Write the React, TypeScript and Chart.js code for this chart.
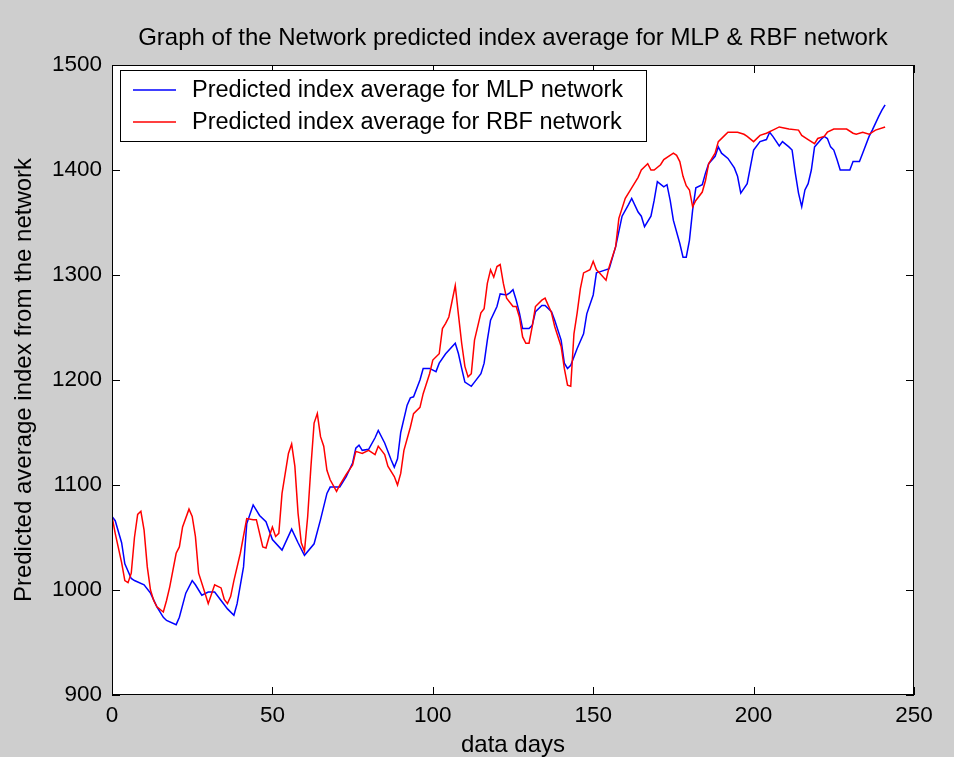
import React, { useEffect, useRef } from "react";
import { Chart, registerables } from "chart.js";

Chart.register(...registerables);

const chartTitle = "Graph of the Network predicted index average for MLP & RBF network";
const xAxisTitle = "data days";
const yAxisTitle = "Predicted average index from the network";
const mlpLabel = "Predicted index average for MLP network";
const rbfLabel = "Predicted index average for RBF network";

const xTickValues = [0, 50, 100, 150, 200, 250];
const yTickValues = [900, 1000, 1100, 1200, 1300, 1400, 1500];

const mlpDays = [
  0, 1, 3, 4, 6, 7, 10, 12, 14, 16, 17, 20, 21, 23, 25, 26, 28, 30, 32, 34, 36, 38, 39, 41, 42, 44, 46, 48, 50,
  53, 56, 58, 60, 63, 65, 67, 68, 71, 73, 75, 76, 77, 78, 80, 82, 83, 85, 87, 88, 89, 90, 92, 93, 94, 96, 97, 99,
  101, 102, 104, 107, 108, 109, 110, 112, 113, 115, 116, 117, 118, 120, 121, 123, 124, 125, 126, 127, 128, 130,
  131, 132, 134, 135, 137, 138, 140, 141, 142, 143, 145, 147, 148, 150, 151, 152, 155, 157, 159, 161, 162, 164,
  165, 166, 168, 169, 170, 172, 173, 174, 175, 177, 178, 179, 180, 181, 182, 184, 185, 186, 188, 189, 190, 192,
  194, 195, 196, 198, 199, 200, 202, 204, 205, 206, 208, 209, 211, 212, 213, 214, 215, 216, 217, 218, 219, 221,
  222, 223, 224, 225, 226, 227, 229, 230, 231, 233, 234, 236, 237, 239, 240, 241,
];
const mlpValues = [
  1070, 1066, 1045, 1025, 1011, 1009, 1005, 997, 984, 974, 971, 967, 974, 997, 1009, 1005, 995, 998, 998, 990,
  982, 976, 987, 1022, 1063, 1081, 1071, 1065, 1048, 1038, 1058, 1045, 1033, 1044, 1067, 1092, 1098, 1098, 1108,
  1121, 1135, 1138, 1133, 1134, 1145, 1152, 1140, 1124, 1117, 1125, 1150, 1176, 1183, 1184, 1200, 1211, 1211,
  1208, 1216, 1225, 1235, 1225, 1211, 1198, 1194, 1198, 1206, 1216, 1238, 1257, 1270, 1282, 1281, 1283, 1286,
  1276, 1264, 1249, 1249, 1252, 1265, 1271, 1271, 1265, 1257, 1238, 1216, 1211, 1214, 1230, 1244, 1263, 1281,
  1302, 1303, 1306, 1327, 1356, 1367, 1373, 1360, 1356, 1346, 1356, 1371, 1389, 1384, 1386, 1371, 1352, 1330,
  1317, 1317, 1333, 1362, 1383, 1386, 1397, 1406, 1413, 1422, 1416, 1411, 1402, 1394, 1378, 1387, 1403, 1419,
  1427, 1429, 1436, 1432, 1423, 1427, 1422, 1419, 1397, 1378, 1365, 1381, 1387, 1400, 1422, 1429, 1432, 1430,
  1422, 1419, 1410, 1400, 1400, 1400, 1408, 1408, 1416, 1432, 1438, 1451, 1457, 1462,
];

const rbfDays = [
  0, 1, 3, 4, 5, 6, 7, 8, 9, 10, 11, 12, 13, 14, 16, 17, 18, 20, 21, 22, 24, 25, 26, 27, 29, 30, 32, 34, 35, 36,
  37, 38, 40, 42, 44, 45, 47, 48, 49, 50, 51, 52, 53, 55, 56, 57, 58, 59, 60, 61, 62, 63, 64, 65, 66, 67, 68, 70,
  71, 73, 75, 76, 78, 80, 82, 83, 85, 86, 88, 89, 90, 91, 93, 94, 96, 97, 99, 100, 102, 103, 104, 105, 106, 107,
  108, 109, 110, 111, 112, 113, 115, 116, 117, 118, 119, 120, 121, 122, 123, 125, 126, 127, 128, 129, 130, 131,
  132, 134, 135, 137, 138, 140, 141, 142, 143, 144, 145, 146, 147, 149, 150, 151, 152, 154, 155, 157, 158, 160,
  162, 164, 165, 167, 168, 169, 171, 172, 175, 176, 177, 178, 179, 180, 181, 182, 184, 185, 186, 188, 189, 191,
  192, 195, 197, 198, 200, 202, 204, 206, 208, 211, 214, 215, 217, 219, 220, 222, 223, 225, 229, 231, 232, 234,
  236, 238, 241,
];
const rbfValues = [
  1070, 1054, 1026, 1009, 1007, 1016, 1050, 1072, 1075, 1057, 1022, 1000, 990, 984, 979, 990, 1003, 1035, 1041,
  1060, 1077, 1070, 1051, 1016, 997, 987, 1005, 1002, 991, 987, 994, 1009, 1035, 1068, 1067, 1067, 1041, 1040,
  1051, 1060, 1051, 1054, 1092, 1130, 1139, 1118, 1073, 1045, 1037, 1070, 1117, 1159, 1168, 1146, 1137, 1114,
  1105, 1094, 1100, 1110, 1119, 1132, 1130, 1133, 1129, 1137, 1129, 1118, 1108, 1100, 1111, 1133, 1155, 1168,
  1174, 1187, 1206, 1219, 1225, 1249, 1254, 1260, 1275, 1290, 1262, 1235, 1213, 1203, 1206, 1238, 1264, 1268,
  1292, 1305, 1298, 1308, 1310, 1292, 1278, 1270, 1270, 1260, 1241, 1235, 1235, 1251, 1270, 1276, 1278, 1264,
  1251, 1232, 1211, 1195, 1194, 1244, 1264, 1287, 1302, 1305, 1313, 1305, 1302, 1295, 1308, 1327, 1354, 1373,
  1383, 1393, 1400, 1406, 1400, 1400, 1405, 1410, 1416, 1414, 1408, 1394, 1385, 1381, 1365, 1371, 1379, 1390,
  1406, 1416, 1427, 1433, 1436, 1436, 1434, 1432, 1427, 1433, 1435, 1438, 1441, 1439, 1438, 1433, 1429, 1425,
  1430, 1432, 1436, 1439, 1439, 1435, 1434, 1436, 1434, 1438, 1441,
];

const FONT = "'Liberation Sans', Arial, Helvetica, sans-serif";
const BG = "#cecece";

const frameAndLegend = {
  id: "frameAndLegend",
  beforeDraw(chart: any) {
    const { ctx, chartArea } = chart;
    ctx.save();
    ctx.fillStyle = "#ffffff";
    ctx.fillRect(chartArea.left, chartArea.top, chartArea.right - chartArea.left, chartArea.bottom - chartArea.top);
    // title centred over the plot area
    ctx.fillStyle = "#000";
    ctx.font = `24px ${FONT}`;
    ctx.textAlign = "center";
    ctx.textBaseline = "middle";
    ctx.fillText(chartTitle, (chartArea.left + chartArea.right) / 2, 38);
    ctx.restore();
  },
  afterDraw(chart: any) {
    const { ctx, chartArea, scales } = chart;
    const { left, right, top, bottom } = chartArea;
    const tl = 8;
    ctx.save();
    ctx.strokeStyle = "#000";
    ctx.lineWidth = 1;
    ctx.strokeRect(left + 0.5, top + 0.5, right - left - 1, bottom - top - 1);
    ctx.beginPath();
    xTickValues.forEach((v) => {
      const x = Math.round(scales.x.getPixelForValue(v)) + 0.5;
      ctx.moveTo(x, bottom);
      ctx.lineTo(x, bottom - tl);
      ctx.moveTo(x, top);
      ctx.lineTo(x, top + tl);
    });
    yTickValues.forEach((v) => {
      const y = Math.round(scales.y.getPixelForValue(v)) + 0.5;
      ctx.moveTo(left, y);
      ctx.lineTo(left + tl, y);
      ctx.moveTo(right, y);
      ctx.lineTo(right - tl, y);
    });
    ctx.stroke();

    // legend box
    const bx = left + 8;
    const by = top + 5;
    const bw = 526;
    const bh = 71;
    ctx.fillStyle = "#fff";
    ctx.fillRect(bx, by, bw, bh);
    ctx.strokeRect(bx + 0.5, by + 0.5, bw, bh);
    const items = chart.data.datasets.map((d: any) => ({ label: d.label, color: d.borderColor }));
    const ordered = [items.find((i: any) => i.label === mlpLabel), items.find((i: any) => i.label === rbfLabel)];
    ordered.forEach((it: any, i: number) => {
      const y = by + 20 + i * 32;
      ctx.strokeStyle = it.color;
      ctx.lineWidth = 1.5;
      ctx.beginPath();
      ctx.moveTo(bx + 13, y);
      ctx.lineTo(bx + 56, y);
      ctx.stroke();
      ctx.fillStyle = "#000";
      ctx.font = `23.5px ${FONT}`;
      ctx.textBaseline = "middle";
      ctx.textAlign = "left";
      ctx.fillText(it.label, bx + 72, y + 1);
    });
    ctx.restore();
  },
};

export default function App() {
  const ref = useRef<HTMLCanvasElement | null>(null);
  useEffect(() => {
    const canvas = ref.current;
    if (!canvas) return;
    const chart = new Chart(canvas, {
      type: "line",
      data: {
        datasets: [
          {
            label: mlpLabel,
            data: mlpDays.map((d, i) => ({ x: d, y: mlpValues[i] })),
            borderColor: "#0000ff",
            borderWidth: 1.5,
            pointRadius: 0,
            tension: 0,
            fill: false,
            order: 1,
          },
          {
            label: rbfLabel,
            data: rbfDays.map((d, i) => ({ x: d, y: rbfValues[i] })),
            borderColor: "#ff0000",
            borderWidth: 1.5,
            pointRadius: 0,
            tension: 0,
            fill: false,
            order: 0,
          },
        ],
      },
      options: {
        responsive: false,
        animation: false,
        devicePixelRatio: 1,
        layout: { padding: { left: 0, right: 40, top: 65, bottom: 0 } },
        plugins: {
          legend: { display: false },
          tooltip: { enabled: false },
          title: { display: false },
        },
        scales: {
          x: {
            type: "linear",
            min: 0,
            max: 250,
            afterBuildTicks: (s: any) => {
              s.ticks = xTickValues.map((v) => ({ value: v }));
            },
            ticks: {
              color: "#000",
              font: { family: FONT, size: 22.5 },
              padding: 7,
              maxRotation: 0,
              callback: (v: any) => String(v),
            },
            grid: { display: false, drawTicks: false },
            border: { display: false },
            title: {
              display: true,
              text: xAxisTitle,
              color: "#000",
              font: { family: FONT, size: 24, lineHeight: 1 },
              padding: { top: 0, bottom: 0 },
            },
            afterFit: (s: any) => {
              s.height = 62;
            },
          },
          y: {
            type: "linear",
            min: 900,
            max: 1500,
            afterBuildTicks: (s: any) => {
              s.ticks = yTickValues.map((v) => ({ value: v }));
            },
            ticks: {
              color: "#000",
              font: { family: FONT, size: 22.5 },
              padding: 10,
              callback: (v: any) => String(v),
            },
            grid: { display: false, drawTicks: false },
            border: { display: false },
            title: {
              display: true,
              text: yAxisTitle,
              color: "#000",
              font: { family: FONT, size: 24, lineHeight: 1 },
              padding: { top: 12, bottom: 0 },
            },
            afterFit: (s: any) => {
              s.width = 112;
            },
          },
        },
      },
      plugins: [frameAndLegend],
    } as any);
    return () => chart.destroy();
  }, []);
  return (
    <div style={{ position: "absolute", left: 0, top: 0, width: 954, height: 757, background: BG }}>
      <canvas ref={ref} width={954} height={757} style={{ display: "block", width: 954, height: 757 }} />
    </div>
  );
}
